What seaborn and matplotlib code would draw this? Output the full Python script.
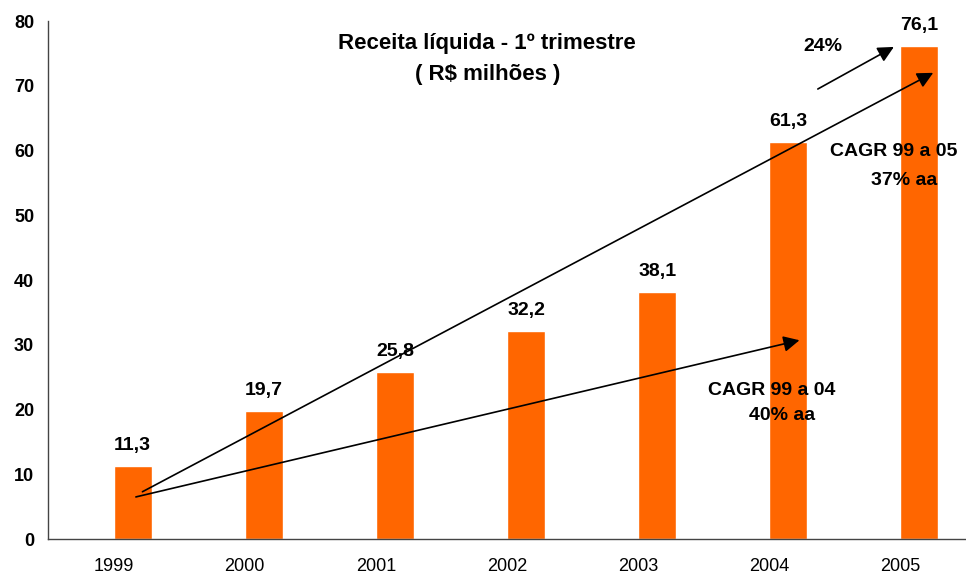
import matplotlib
matplotlib.use('Agg')
import matplotlib.pyplot as plt
import seaborn as sns
import pandas as pd
import numpy as np

# data
anos = ['1999', '2000', '2001', '2002', '2003', '2004', '2005']
receita = [11.3, 19.7, 25.8, 32.2, 38.1, 61.3, 76.1]

sns.set_style('white')
plt.rcParams['font.family'] = ['Liberation Sans', 'DejaVu Sans']
plt.rcParams['text.color'] = 'black'
plt.rcParams['xtick.labelcolor'] = 'black'
plt.rcParams['ytick.labelcolor'] = 'black'

# Excel-style clustered bar: an empty first series pushes the bar to the right
df = pd.DataFrame({
    'Ano': anos + anos,
    'Receita': [np.nan] * len(anos) + receita,
    'Serie': ['vazio'] * len(anos) + ['receita'] * len(anos),
})

fig = plt.figure(figsize=(9.66, 5.76), dpi=100)
ax = fig.add_axes([0.0497, 0.0642, 0.9503, 0.8993])

sns.barplot(data=df, x='Ano', y='Receita', hue='Serie', hue_order=['vazio', 'receita'],
            palette={'vazio': 'white', 'receita': '#FF6600'}, width=0.58,
            saturation=1, legend=False, ax=ax)

ax.set_xlim(-0.5, 6.45)
ax.set_ylim(0, 80)
ax.set_yticks(range(0, 81, 10))
ax.set_xlabel('')
ax.set_ylabel('')

# x ticks between categories
ax.set_xticks(np.arange(-0.5, 7, 1), minor=True)
ax.tick_params(axis='x', which='major', length=0, labelsize=13, pad=13.5)
ax.tick_params(axis='x', which='minor', length=6, width=1, color='#444444', direction='out')
ax.tick_params(axis='y', length=5, width=1, color='#444444', direction='out', labelsize=13, pad=5)
for lbl in ax.get_yticklabels():
    lbl.set_fontweight('bold')

for s in ['top', 'right']:
    ax.spines[s].set_visible(False)
for s in ['left', 'bottom']:
    ax.spines[s].set_color('#444444')
    ax.spines[s].set_linewidth(1)

# value labels above the bars
for i, v in enumerate(receita):
    ax.annotate(f'{v:.1f}'.replace('.', ','), (i + 0.145, v), xytext=(0, 11.5),
                textcoords='offset points', ha='center', va='baseline',
                fontsize=14, fontweight='bold')

# title
ax.text(2.85, 76.5, 'Receita líquida - 1º trimestre', ha='center', va='center',
        fontsize=16, fontweight='bold')
ax.text(2.85, 71.7, '( R$ milhões )', ha='center', va='center',
        fontsize=16, fontweight='bold')

# growth arrows
arrow = dict(arrowstyle='-|>', color='black', lw=1.2, mutation_scale=24, shrinkA=0, shrinkB=0)
ax.annotate('', xy=(6.25, 72.0), xytext=(0.22, 7.3), arrowprops=arrow)
ax.annotate('', xy=(5.23, 30.7), xytext=(0.17, 6.5), arrowprops=arrow)
ax.annotate('', xy=(5.95, 76.0), xytext=(5.37, 69.5), arrowprops=arrow)

ax.text(5.41, 76.0, '24%', ha='center', va='center', fontsize=14, fontweight='bold')
ax.text(5.95, 59.9, 'CAGR 99 a 05', ha='center', va='center', fontsize=14, fontweight='bold')
ax.text(6.03, 55.3, '37% aa', ha='center', va='center', fontsize=14, fontweight='bold')
ax.text(5.02, 23.0, 'CAGR 99 a 04', ha='center', va='center', fontsize=14, fontweight='bold')
ax.text(5.10, 19.0, '40% aa', ha='center', va='center', fontsize=14, fontweight='bold')

fig.savefig('out.png', dpi=100)
